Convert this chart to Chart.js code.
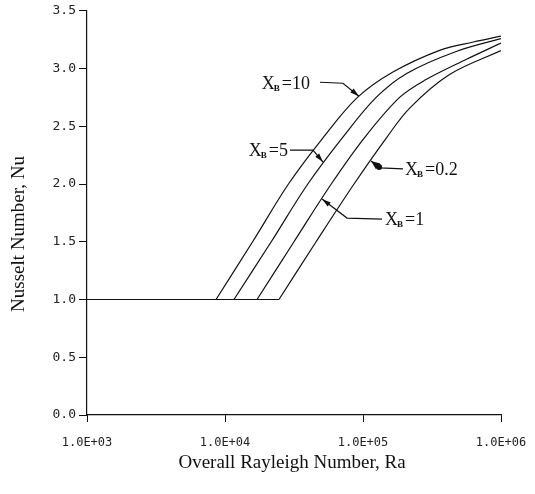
<!DOCTYPE html>
<html>
<head>
<meta charset="utf-8">
<script src="https://cdn.jsdelivr.net/npm/chart.js@4.4.1/dist/chart.umd.min.js"></script>
<style>
html,body{margin:0;padding:0;background:#fff;}
#wrap{width:535px;height:494px;}
</style>
</head>
<body>
<div id="wrap"><canvas id="nuChart" width="535" height="494"></canvas></div>
<script>
// axis ticks
const xTickValues = [1e3, 1e4, 1e5, 1e6];
const xTickLabels = ["1.0E+03", "1.0E+04", "1.0E+05", "1.0E+06"];
const yTickLabels = ["0.0", "0.5", "1.0", "1.5", "2.0", "2.5", "3.0", "3.5"];

// curve names (X_B values)
const xbValues = ["10", "5", "1", "0.2"];

// conduction part, all curves share it
const raFlat = [1000, 24600];
const nuFlat = [1.0, 1.0];

const raXb10 = [8610, 15850, 28840, 51290, 91200, 164800, 363100, 631000, 1000000];
const nuXb10 = [1.00, 1.50, 2.00, 2.40, 2.75, 2.97, 3.16, 3.23, 3.28];

const raXb5 = [11610, 21630, 39810, 70790, 124500, 208900, 478600, 1000000];
const nuXb5 = [1.00, 1.50, 2.00, 2.40, 2.75, 2.96, 3.15, 3.26];

const raXb1 = [17060, 31620, 58880, 102300, 184100, 281800, 562300, 1000000];
const nuXb1 = [1.00, 1.50, 2.00, 2.40, 2.75, 2.90, 3.08, 3.22];

const raXb02 = [24600, 45710, 86100, 147900, 218800, 426600, 1000000];
const nuXb02 = [1.00, 1.50, 2.00, 2.40, 2.66, 2.95, 3.155];

const inkColor = "#111";

function toPoints(ra, nu){
  return ra.map((r, i) => ({x: r, y: nu[i]}));
}

// label arrows: tip sits on the curve (data space), the rest is pixel offsets
const notes = [
  {value: xbValues[0], ra: 93500, nu: 2.76, path: [[-16, -13], [-39, -14]], dx: -49, dy: -13, align: "right", head: "thin"},
  {value: xbValues[1], ra: 51300, nu: 2.19, path: [[-10, -12], [-33, -12]], dx: -35, dy: -12, align: "right", head: "thin"},
  {value: xbValues[2], ra: 50470, nu: 1.87, path: [[25, 19], [60, 20]], dx: 63, dy: 20, align: "left", head: "thin"},
  {value: xbValues[3], ra: 114300, nu: 2.20, path: [[9, 7], [32, 8]], dx: 34, dy: 8, align: "left", head: "fat"}
];

function drawArrow(ctx, pts, head){
  ctx.beginPath();
  ctx.moveTo(pts[pts.length - 1][0], pts[pts.length - 1][1]);
  for (let i = pts.length - 2; i >= 0; i--) ctx.lineTo(pts[i][0], pts[i][1]);
  ctx.lineWidth = 1.2;
  ctx.strokeStyle = inkColor;
  ctx.stroke();

  const [tx, ty] = pts[0];
  const ang = Math.atan2(ty - pts[1][1], tx - pts[1][0]);
  const len = 9;
  const half = head === "fat" ? 3.6 : 2.6;
  const bx = tx - len * Math.cos(ang), by = ty - len * Math.sin(ang);
  ctx.beginPath();
  ctx.moveTo(tx, ty);
  ctx.lineTo(bx + half * Math.sin(ang), by - half * Math.cos(ang));
  ctx.lineTo(bx - half * Math.sin(ang), by + half * Math.cos(ang));
  ctx.closePath();
  ctx.fillStyle = inkColor;
  ctx.fill();
  if (head === "fat"){
    ctx.beginPath();
    ctx.arc(bx + 1, by + 0.5, 3, 0, Math.PI * 2);
    ctx.fill();
  }
}

function drawXb(ctx, x, midY, value, align){
  const mainFont = "18px 'Liberation Serif'";
  const subFont = "bold 9px 'Liberation Serif'";
  ctx.font = mainFont;
  const wX = ctx.measureText("X").width;
  const rest = "=" + value;
  const wRest = ctx.measureText(rest).width;
  ctx.font = subFont;
  const wB = ctx.measureText("B").width;
  const total = wX + wB + wRest + 1;
  const sx = align === "right" ? x - total : x;
  const base = midY + 6;

  ctx.fillStyle = inkColor;
  ctx.textAlign = "left";
  ctx.textBaseline = "alphabetic";
  ctx.font = mainFont;
  ctx.fillText("X", sx, base);
  ctx.font = subFont;
  ctx.fillText("B", sx + wX - 1, base + 2);
  ctx.font = mainFont;
  ctx.fillText(rest, sx + wX + wB + 1, base);
}

const notePlugin = {
  id: "xbNotes",
  afterDraw(chart){
    const ctx = chart.ctx;
    const xs = chart.scales.x;
    const ys = chart.scales.y;
    ctx.save();

    notes.forEach(n => {
      const tx = xs.getPixelForValue(n.ra);
      const ty = ys.getPixelForValue(n.nu);
      const pts = [[tx, ty]].concat(n.path.map(p => [tx + p[0], ty + p[1]]));
      drawArrow(ctx, pts, n.head);
      drawXb(ctx, tx + n.dx, ty + n.dy, n.value, n.align);
    });

    // axis titles
    ctx.fillStyle = inkColor;
    ctx.font = "19px 'Liberation Serif'";
    ctx.textAlign = "center";
    ctx.textBaseline = "middle";
    ctx.fillText("Overall Rayleigh Number, Ra", 292, 463);

    ctx.translate(19, 234);
    ctx.rotate(-Math.PI / 2);
    ctx.fillText("Nusselt Number, Nu", 0, 0);

    ctx.restore();
  }
};

const lineStyle = {
  borderColor: inkColor,
  borderWidth: 1.2,
  pointRadius: 0,
  fill: false,
  tension: 0.35
};

new Chart(
  document.getElementById("nuChart"),
  {
    type: "line",
    data: {
      datasets: [
        Object.assign({label: "Nu = 1", data: toPoints(raFlat, nuFlat)}, lineStyle, {tension: 0}),
        Object.assign({label: "X_B=" + xbValues[0], data: toPoints(raXb10, nuXb10)}, lineStyle),
        Object.assign({label: "X_B=" + xbValues[1], data: toPoints(raXb5, nuXb5)}, lineStyle),
        Object.assign({label: "X_B=" + xbValues[2], data: toPoints(raXb1, nuXb1)}, lineStyle),
        Object.assign({label: "X_B=" + xbValues[3], data: toPoints(raXb02, nuXb02)}, lineStyle)
      ]
    },
    options: {
      responsive: false,
      animation: false,
      devicePixelRatio: 1,
      layout: {padding: {top: 9, right: 34, left: 0, bottom: 0}},
      plugins: {legend: {display: false}, tooltip: {enabled: false}},
      scales: {
        x: {
          type: "logarithmic",
          min: 1000,
          max: 1000000,
          afterBuildTicks: s => { s.ticks = xTickValues.map(v => ({value: v})); },
          afterFit: s => {
            s.height = 79;
            s.paddingLeft = 0;
            s.paddingRight = 0;
          },
          ticks: {
            autoSkip: false,
            maxRotation: 0,
            padding: 14,
            color: "#222",
            font: {family: "DejaVu Sans Mono", size: 12},
            callback: (v, i) => xTickLabels[i]
          },
          grid: {drawOnChartArea: false, tickLength: 7, tickColor: inkColor},
          border: {color: inkColor, width: 1.2}
        },
        y: {
          min: 0,
          max: 3.5,
          afterFit: s => { s.width = 87; },
          ticks: {
            stepSize: 0.5,
            padding: 3,
            color: "#222",
            font: {family: "DejaVu Sans Mono", size: 13},
            callback: (v, i) => yTickLabels[i]
          },
          grid: {drawOnChartArea: false, tickLength: 8, tickColor: inkColor},
          border: {color: inkColor, width: 1.2}
        }
      }
    },
    plugins: [notePlugin]
  }
);
</script>
</body>
</html>
